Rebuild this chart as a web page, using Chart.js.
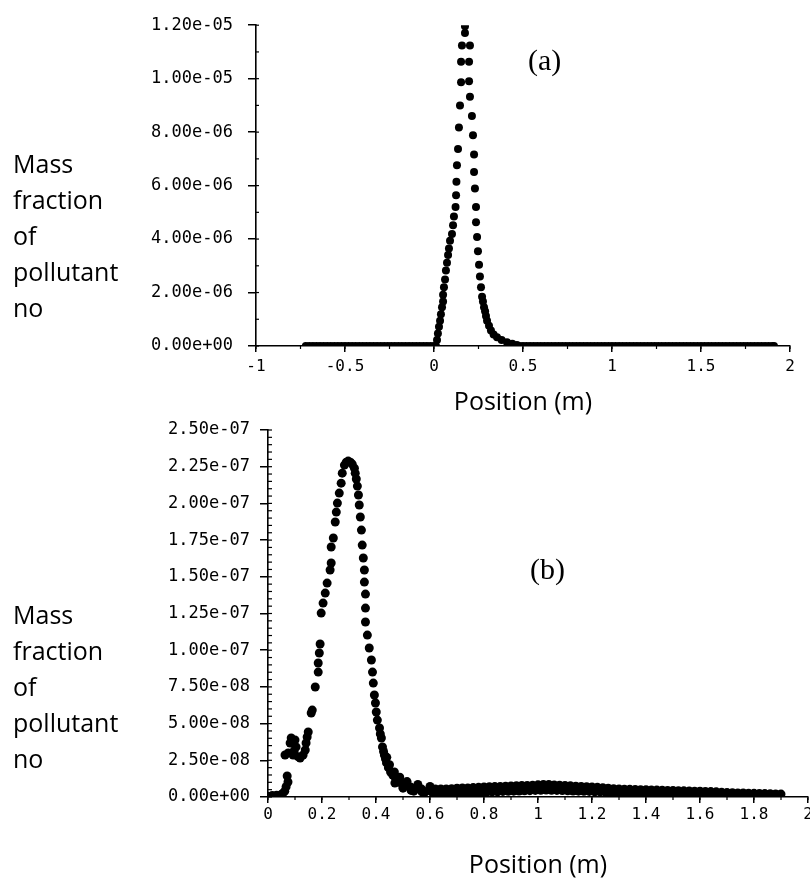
<!DOCTYPE html>
<html><head><meta charset="utf-8">
<script src="https://cdn.jsdelivr.net/npm/chart.js@4.4.0/dist/chart.umd.min.js"></script>
<style>
html,body{margin:0;padding:0;background:#fff;width:810px;height:881px;overflow:hidden;}
#wrap{position:relative;width:810px;height:881px;overflow:hidden;}
.box{position:absolute;left:0;}
.lab{position:absolute;left:13px;font-family:"Open Sans";font-size:25px;line-height:36px;color:#000;white-space:nowrap;}
.tag{position:absolute;font-family:"Liberation Serif";font-size:30px;line-height:30px;color:#000;}
</style></head><body>
<div id="wrap">
  <div class="box" style="top:0;width:810px;height:440px"><canvas id="c1"></canvas></div>
  <div class="box" style="top:400px;width:830px;height:481px"><canvas id="c2"></canvas></div>
  <div class="lab" style="top:145px">Mass<br>fraction<br>of<br>pollutant<br>no</div>
  <div class="lab" style="top:596px">Mass<br>fraction<br>of<br>pollutant<br>no</div>
  <div class="tag" style="left:528px;top:45px">(a)</div>
  <div class="tag" style="left:530px;top:554px">(b)</div>
</div>
<script>
// ---------- Chart (a) data: position (m) vs mass fraction (x1e-6) ----------
const topX = [
 -0.72,-0.70,-0.68,-0.66,-0.64,-0.62,-0.60,-0.58,-0.56,-0.54,-0.52,-0.50,-0.48,-0.46,-0.44,-0.42,-0.40,-0.38,-0.36,-0.34,-0.32,-0.30,-0.28,-0.26,-0.24,-0.22,-0.20,-0.18,-0.16,-0.14,-0.12,-0.10,-0.08,-0.06,-0.04,-0.02,0.00,
 0.011,0.017,0.022,0.028,0.034,0.039,0.045,0.051,0.051,0.056,0.062,0.067,0.073,0.079,0.084,0.090,0.101,0.107,0.112,0.121,0.124,0.126,0.129,0.135,0.140,0.146,0.152,0.152,0.157,0.174,0.174,
 0.202,0.197,0.197,0.202,0.213,0.219,0.225,0.225,0.230,0.236,0.236,0.242,0.247,0.253,0.258,0.264,0.270,0.275,0.281,0.287,0.292,0.298,0.309,0.320,0.335,0.354,0.380,0.410,0.440,0.466,
 0.48,0.50,0.52,0.54,0.56,0.58,0.60,0.62,0.64,0.66,0.68,0.70,0.72,0.74,0.76,0.78,0.80,0.82,0.84,0.86,0.88,0.90,0.92,0.94,0.96,0.98,1.00,1.02,1.04,1.06,1.08,1.10,1.12,1.14,1.16,1.18,1.20,1.22,1.24,1.26,1.28,1.30,1.32,1.34,1.36,1.38,1.40,1.42,1.44,1.46,1.48,1.50,1.52,1.54,1.56,1.58,1.60,1.62,1.64,1.66,1.68,1.70,1.72,1.74,1.76,1.78,1.80,1.82,1.84,1.86,1.88,1.90,1.91
];
const topY_e6 = [
 0,0,0,0,0,0,0,0,0,0,0,0,0,0,0,0,0,0,0,0,0,0,0,0,0,0,0,0,0,0,0,0,0,0,0,0,0,
 0,0.22,0.47,0.72,0.94,1.19,1.45,1.66,1.92,2.20,2.49,2.82,3.11,3.40,3.65,3.94,4.19,4.52,4.84,5.20,5.64,6.14,6.76,7.37,8.17,9.00,9.87,10.63,11.24,11.71,11.96,
 11.24,10.63,9.90,9.32,8.60,7.88,7.16,6.51,5.89,5.20,4.63,4.08,3.54,3.04,2.60,2.20,1.84,1.66,1.45,1.30,1.12,0.94,0.76,0.58,0.43,0.33,0.22,0.14,0.08,0.04,
 0,0,0,0,0,0,0,0,0,0,0,0,0,0,0,0,0,0,0,0,0,0,0,0,0,0,0,0,0,0,0,0,0,0,0,0,0,0,0,0,0,0,0,0,0,0,0,0,0,0,0,0,0,0,0,0,0,0,0,0,0,0,0,0,0,0,0,0,0,0,0,0,0
];
const topXTicks = [-1,-0.5,0,0.5,1,1.5,2];
const topXLabels = ["-1","-0.5","0","0.5","1","1.5","2"];
const topYTicks = [0,2e-6,4e-6,6e-6,8e-6,1e-5,1.2e-5];
const topYLabels = ["0.00e+00","2.00e-06","4.00e-06","6.00e-06","8.00e-06","1.00e-05","1.20e-05"];

// ---------- Chart (b) data: position (m) vs mass fraction (x1e-8) ----------
const botX = [
 0.000,0.008,0.016,0.024,0.032,0.040,0.048,0.055,0.062,0.067,0.074,0.071,
 0.063,0.082,0.086,0.100,0.104,0.093,0.119,0.130,0.138,0.141,0.145,0.149,0.075,0.111,0.097,
 0.160,0.164,0.175,0.186,0.186,0.190,0.193,0.197,0.204,0.212,0.219,0.230,0.234,0.234,0.242,0.249,0.253,0.257,0.264,0.271,0.275,0.283,
 0.290,0.297,0.305,0.312,0.320,0.323,0.327,0.331,0.335,0.338,0.342,0.346,0.349,0.353,0.357,0.357,0.361,0.361,0.361,0.368,0.375,0.383,0.387,0.390,0.394,0.398,0.401,0.405,0.413,0.420,0.424,0.431,0.439,0.454,0.472,0.494,0.528,0.569,0.621,
 0.416,0.428,0.435,0.446,0.462,0.483,0.510,0.548,0.595,0.500,0.540,0.580,
 0.440,0.450,0.468,0.488,0.515,0.555,0.600,0.470,0.500,0.530,0.570,0.610,
 0.62,0.64,0.66,0.68,0.70,0.72,0.74,0.76,0.78,0.80,0.82,0.84,0.86,0.88,0.90,0.92,0.94,0.96,0.98,1.00,1.02,1.04,1.06,1.08,1.10,1.12,1.14,1.16,1.18,1.20,1.22,1.24,1.26,1.28,1.30,1.32,1.34,1.36,1.38,1.40,1.42,1.44,1.46,1.48,1.50,1.52,1.54,1.56,1.58,1.60,1.62,1.64,1.66,1.68,1.70,1.72,1.74,1.76,1.78,1.80,1.82,1.84,1.86,1.88,1.90,
 0.63,0.65,0.67,0.69,0.71,0.73,0.75,0.77,0.79,0.81,0.83,0.85,0.87,0.89,0.91,0.93,0.95,0.97,0.99,1.01,1.03,1.05,1.07,1.09,1.11,1.13,1.15,1.17,1.19,1.21,1.23,1.25,1.27,1.29,1.31,1.33,1.35,1.37,1.39,1.41,1.43,1.45,1.47,1.49,1.51,1.53,1.55,1.57,1.59,1.61,1.63,1.65,1.67,1.69,1.71,1.73,1.75,1.77,1.79,1.81,1.83,1.85,1.87,1.89
];
const botY_e8 = [
 0.05,0.00,0.10,0.00,0.12,0.05,0.15,0.25,0.40,0.70,1.02,1.43,
 2.86,3.68,4.02,3.88,3.41,2.86,2.66,2.86,3.20,3.68,4.09,4.43,3.00,2.75,3.15,
 5.72,5.92,7.49,8.51,9.13,9.81,10.42,12.53,13.21,13.89,14.57,15.46,15.94,17.03,17.64,18.73,19.41,20.02,20.70,21.38,22.06,22.61,
 22.81,22.88,22.81,22.68,22.40,22.06,21.66,21.18,20.57,19.89,19.07,18.18,17.16,16.28,15.46,14.64,13.82,12.87,11.92,11.03,10.15,9.33,8.51,7.76,6.95,6.40,5.79,5.24,4.70,4.02,3.41,2.86,2.32,1.70,1.29,0.95,0.68,0.54,0.41,
 4.30,3.10,2.60,2.00,1.50,1.10,0.80,0.60,0.45,0.60,0.40,0.30,
 2.70,2.20,1.70,1.35,1.05,0.85,0.72,0.95,0.70,0.45,0.35,0.28,
 0.55,0.55,0.55,0.57,0.60,0.61,0.62,0.64,0.66,0.68,0.70,0.71,0.72,0.74,0.75,0.77,0.78,0.79,0.80,0.83,0.85,0.85,0.82,0.80,0.78,0.76,0.74,0.72,0.70,0.68,0.66,0.63,0.60,0.57,0.55,0.53,0.52,0.51,0.50,0.49,0.48,0.47,0.46,0.45,0.45,0.43,0.42,0.41,0.40,0.39,0.38,0.37,0.35,0.32,0.30,0.29,0.28,0.27,0.26,0.25,0.24,0.23,0.22,0.21,0.20,
 0.25,0.25,0.25,0.26,0.27,0.28,0.30,0.31,0.32,0.33,0.35,0.36,0.38,0.39,0.40,0.41,0.42,0.43,0.45,0.46,0.47,0.46,0.45,0.44,0.42,0.41,0.40,0.39,0.38,0.36,0.35,0.33,0.32,0.31,0.30,0.29,0.28,0.27,0.26,0.26,0.25,0.24,0.24,0.23,0.22,0.21,0.20,0.20,0.20,0.19,0.18,0.18,0.17,0.17,0.16,0.16,0.15,0.15,0.15,0.14,0.14,0.14,0.14,0.14
];
const botXTicks = [0,0.2,0.4,0.6,0.8,1,1.2,1.4,1.6,1.8,2];
const botXLabels = ["0","0.2","0.4","0.6","0.8","1","1.2","1.4","1.6","1.8","2"];
const botYTicks = [0,2.5e-8,5e-8,7.5e-8,1e-7,1.25e-7,1.5e-7,1.75e-7,2e-7,2.25e-7,2.5e-7];
const botYLabels = ["0.00e+00","2.50e-08","5.00e-08","7.50e-08","1.00e-07","1.25e-07","1.50e-07","1.75e-07","2.00e-07","2.25e-07","2.50e-07"];

// ---------- minor tick plugin (axis decoration) ----------
const minorTicks = {
  id: 'minorTicks',
  afterDraw(chart, args, opts) {
    const ctx = chart.ctx;
    ctx.save();
    ctx.strokeStyle = '#000';
    ctx.lineWidth = 1.2;
    ['x','y'].forEach(id => {
      const o = opts[id]; if (!o) return;
      const s = chart.scales[id];
      const n = Math.round((s.max - s.min) / o.step);
      for (let i = 0; i <= n; i++) {
        const v = s.min + i * o.step;
        const p = s.getPixelForValue(v);
        ctx.beginPath();
        if (id === 'x') { ctx.moveTo(p, s.top); ctx.lineTo(p, s.top + o.len); }
        else { ctx.moveTo(s.right, p); ctx.lineTo(s.right + o.len, p); }
        ctx.stroke();
      }
    });
    ctx.restore();
  }
};

function makeChart(id, xs, ys, unit, cfg) {
  const pts = xs.map((x, i) => ({x: x, y: ys[i] * unit}));
  return new Chart(document.getElementById(id), {
    type: 'scatter',
    data: { datasets: [{ data: pts, backgroundColor: '#000', borderWidth: 0, pointRadius: cfg.r, pointHoverRadius: cfg.r }] },
    plugins: [minorTicks],
    options: {
      responsive: true, maintainAspectRatio: false, animation: false,
      layout: { padding: cfg.pad },
      plugins: { legend: { display: false }, tooltip: { enabled: false }, minorTicks: cfg.minor },
      scales: {
        x: {
          type: 'linear', min: cfg.xMin, max: cfg.xMax,
          afterBuildTicks: s => { s.ticks = cfg.xTicks.map(v => ({value: v})); },
          afterFit: s => { s.height = cfg.xH; },
          ticks: { callback: (v, i) => cfg.xLabels[i], color: '#000', maxRotation: 0, autoSkip: false, padding: cfg.xPad,
                   font: { family: 'DejaVu Sans Mono', size: 16 } },
          grid: { drawOnChartArea: false, drawTicks: true, tickLength: 6, color: '#000', lineWidth: 1.5 },
          border: { display: true, color: '#000', width: 1.6 },
          title: { display: true, text: 'Position (m)', color: '#000', font: { family: 'Open Sans', size: 25 }, padding: { top: 0, bottom: cfg.titlePad } }
        },
        y: {
          type: 'linear', min: cfg.yMin, max: cfg.yMax,
          afterBuildTicks: s => { s.ticks = cfg.yTicks.map(v => ({value: v})); },
          afterFit: s => { s.width = cfg.yW; },
          ticks: { callback: (v, i) => cfg.yLabels[i], color: '#000', autoSkip: false, padding: cfg.yPad,
                   font: { family: 'DejaVu Sans Mono', size: 17 } },
          grid: { drawOnChartArea: false, drawTicks: true, tickLength: 8, color: '#000', lineWidth: 1.5 },
          border: { display: true, color: '#000', width: 1.6 }
        }
      }
    }
  });
}

makeChart('c1', topX, topY_e6, 1e-6, {
  r: 4, pad: { top: 14, right: 20, left: 0, bottom: 0 },
  xMin: -1, xMax: 2, xTicks: topXTicks, xLabels: topXLabels, xH: 94, titlePad: 22, xPad: 5,
  yMin: 0, yMax: 1.2e-5, yTicks: topYTicks, yLabels: topYLabels, yW: 256, yPad: 15,
  minor: { x: { step: 0.25, len: 3 }, y: { step: 1e-6, len: 3 } }
});
makeChart('c2', botX, botY_e8, 1e-8, {
  r: 4.5, pad: { top: 30, right: 22, left: 0, bottom: 0 },
  xMin: 0, xMax: 2, xTicks: botXTicks, xLabels: botXLabels, xH: 84, titlePad: 0, xPad: 2,
  yMin: 0, yMax: 2.5e-7, yTicks: botYTicks, yLabels: botYLabels, yW: 268, yPad: 10,
  minor: { x: { step: 0.1, len: 3 }, y: { step: 5e-9, len: 4 } }
});
</script>
</body></html>
